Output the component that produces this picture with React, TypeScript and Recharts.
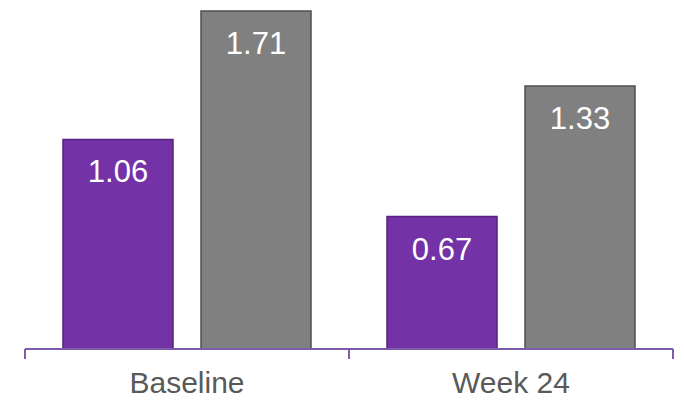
import { BarChart, Bar, XAxis, YAxis, LabelList } from 'recharts';

const categories = ['Baseline', 'Week 24'];
const purpleValues = [1.06, 0.67];
const grayValues = [1.71, 1.33];
const dividerTicks = [0, 1, 2];

const data = categories.map((name, i) => ({
  name,
  pos: i + 0.5,
  purple: purpleValues[i],
  gray: grayValues[i],
}));

const FONT = '"Liberation Sans", Arial, sans-serif';
const AXIS = '#7C5CAA';

export default function App() {
  return (
    <div style={{ position: 'absolute', left: 0, top: 0, fontFamily: FONT }}>
      <BarChart
        width={684}
        height={401}
        data={data}
        margin={{ top: 11, right: 11, left: 25, bottom: 0 }}
        barGap={28}
      >
        {/* thin axis used only for the purple baseline and the dividers between groups */}
        <XAxis
          xAxisId="a-grid"
          dataKey="pos"
          type="number"
          orientation="bottom"
          domain={[0, 2]}
          ticks={dividerTicks}
          height={1}
          axisLine={{ stroke: AXIS, strokeWidth: 2 }}
          tickLine={{ stroke: AXIS, strokeWidth: 2 }}
          tickSize={10}
          tickFormatter={() => ''}
        />
        <XAxis
          xAxisId="b-cat"
          dataKey="name"
          height={51}
          axisLine={false}
          tickLine={false}
          tickSize={0}
          tickMargin={22}
          tick={{ fill: '#595959', fontSize: 30, fontFamily: FONT }}
        />
        <YAxis hide domain={[0, 1.71]} />
        <Bar
          xAxisId="b-cat"
          dataKey="purple"
          fill="#7332A5"
          stroke="#56217F"
          strokeWidth={1.5}
          barSize={110}
          isAnimationActive={false}
        >
          <LabelList
            dataKey="purple"
            position="insideTop"
            offset={21}
            fill="#FFFFFF"
            style={{ fontSize: 31, fontFamily: FONT }}
            formatter={(v: number) => v.toFixed(2)}
          />
        </Bar>
        <Bar
          xAxisId="b-cat"
          dataKey="gray"
          fill="#808080"
          stroke="#4F4F4F"
          strokeWidth={1.5}
          barSize={110}
          isAnimationActive={false}
        >
          <LabelList
            dataKey="gray"
            position="insideTop"
            offset={21}
            fill="#FFFFFF"
            style={{ fontSize: 31, fontFamily: FONT }}
            formatter={(v: number) => v.toFixed(2)}
          />
        </Bar>
      </BarChart>
    </div>
  );
}
